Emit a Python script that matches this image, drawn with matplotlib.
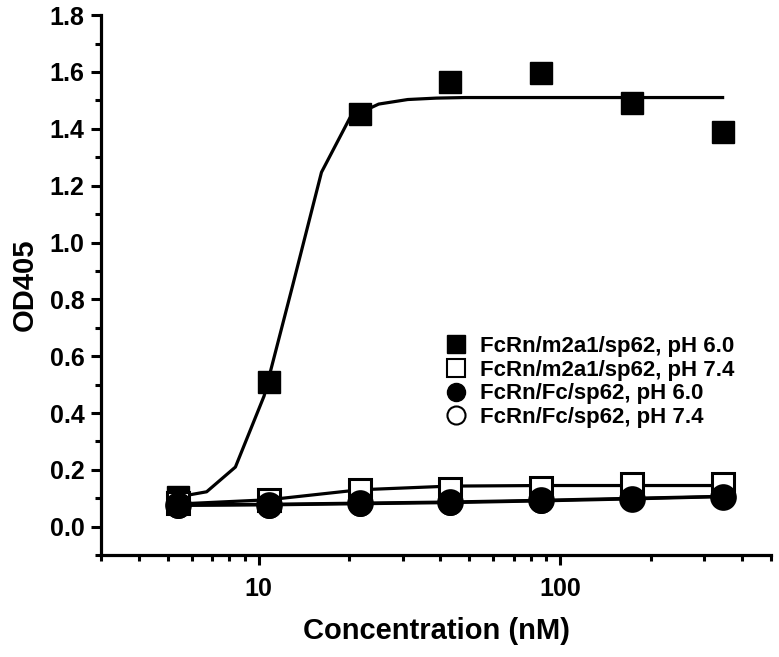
import numpy as np
import matplotlib
matplotlib.use('Agg')
import matplotlib.pyplot as plt
from matplotlib.lines import Line2D
from matplotlib.ticker import LogLocator, MultipleLocator, FixedLocator, NullFormatter

plt.rcParams['font.family'] = ['Liberation Sans', 'DejaVu Sans']
plt.rcParams['font.weight'] = 'bold'

# concentrations (nM)
conc = [5.4, 10.8, 21.6, 43.2, 86.4, 172.8, 345.6]

# measured OD405
m2a1_ph60 = [0.105, 0.51, 1.452, 1.566, 1.597, 1.491, 1.390]
m2a1_ph74 = [0.085, 0.095, 0.128, 0.132, 0.138, 0.150, 0.152]
fc_ph60 = [0.072, 0.072, 0.080, 0.082, 0.089, 0.097, 0.103]
fc_ph74 = [0.076, 0.078, 0.084, 0.087, 0.093, 0.099, 0.105]

# fitted curves as drawn
fit_x = [5.4, 6.72, 8.37, 10.42, 12.97, 16.15, 20.1, 25.0, 31.2, 38.8,
         48.3, 60.1, 74.8, 93.1, 115.9, 144.3, 179.6, 223.6, 278.3, 345.6]
fit_m2a1_ph60 = [0.105, 0.123, 0.21, 0.46, 0.85, 1.247, 1.44, 1.487, 1.503, 1.508,
                 1.51, 1.51, 1.51, 1.51, 1.51, 1.51, 1.51, 1.51, 1.51, 1.51]
fit_m2a1_ph74 = [0.08, 0.095, 0.13, 0.143, 0.145, 0.145, 0.145]
fit_fc_ph60 = [0.075, 0.077, 0.081, 0.085, 0.091, 0.098, 0.106]
fit_fc_ph74 = [0.077, 0.079, 0.083, 0.087, 0.093, 0.100, 0.107]

labels = ['FcRn/m2a1/sp62, pH 6.0', 'FcRn/m2a1/sp62, pH 7.4',
          'FcRn/Fc/sp62, pH 6.0', 'FcRn/Fc/sp62, pH 7.4']

fig = plt.figure(figsize=(7.79, 6.57), dpi=100)
ax = fig.add_axes([0.1297, 0.155, 0.86, 0.822])

lw = 2.3
ax.plot(fit_x, fit_m2a1_ph60, '-', color='k', lw=lw, zorder=2)
ax.plot(conc, fit_m2a1_ph74, '-', color='k', lw=lw, zorder=2)
ax.plot(conc, fit_fc_ph74, '-', color='k', lw=lw, zorder=2)
ax.plot(conc, fit_fc_ph60, '-', color='k', lw=lw, zorder=2)

ms_sq = 15.5
ms_ci = 17
ax.plot(conc, m2a1_ph60, 's', ms=ms_sq, mfc='k', mec='k', zorder=3)
ax.plot(conc, m2a1_ph74, 's', ms=ms_sq, mfc='white', mec='k', mew=2.2, zorder=3)
ax.plot(conc, fc_ph74, 'o', ms=ms_ci, mfc='white', mec='k', mew=2.2, zorder=4)
ax.plot(conc, fc_ph60, 'o', ms=ms_ci, mfc='k', mec='k', zorder=5)

ax.set_xscale('log')
ax.set_xlim(3, 500)
ax.set_ylim(-0.1, 1.8)

ax.spines['top'].set_visible(False)
ax.spines['right'].set_visible(False)
for s in ['left', 'bottom']:
    ax.spines[s].set_linewidth(2.3)

ax.xaxis.set_major_locator(FixedLocator([10, 100]))
ax.set_xticklabels(['10', '100'])
ax.xaxis.set_minor_locator(LogLocator(base=10, subs=np.arange(2, 10)))
ax.xaxis.set_minor_formatter(NullFormatter())
ax.yaxis.set_major_locator(FixedLocator(np.arange(0, 1.81, 0.2)))
ax.yaxis.set_minor_locator(MultipleLocator(0.1))
ax.set_yticklabels(['%.1f' % v for v in np.arange(0, 1.81, 0.2)])

ax.tick_params(which='major', length=7.5, width=2.2, labelsize=18, direction='out', pad=4.5)
ax.tick_params(which='minor', length=4.5, width=2.2, direction='out')
ax.tick_params(axis='x', which='major', pad=8)

ax.set_xlabel('Concentration (nM)', fontsize=21, fontweight='bold', labelpad=12)
ax.set_ylabel('OD405', fontsize=21, fontweight='bold', labelpad=8)

handles = [
    Line2D([], [], ls='none', marker='s', ms=13, mfc='k', mec='k'),
    Line2D([], [], ls='none', marker='s', ms=13, mfc='white', mec='k', mew=1.5),
    Line2D([], [], ls='none', marker='o', ms=13, mfc='k', mec='k'),
    Line2D([], [], ls='none', marker='o', ms=13, mfc='white', mec='k', mew=1.5),
]
leg = fig.legend(handles, labels, loc='upper left', bbox_to_anchor=(0.571, 0.4886),
                 bbox_transform=fig.transFigure, frameon=False, fontsize=16,
                 handlelength=1.0, handletextpad=0.6, labelspacing=0.12,
                 borderpad=0, borderaxespad=0)
for t in leg.get_texts():
    t.set_fontweight('bold')

fig.savefig('out.png', dpi=100)
